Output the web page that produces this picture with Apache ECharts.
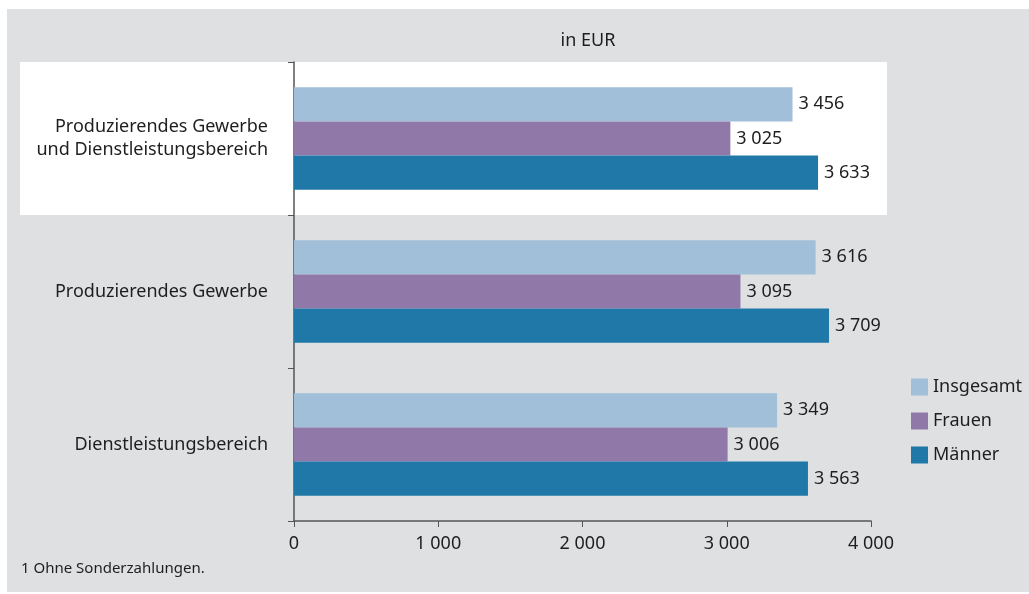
<!DOCTYPE html>
<html>
<head>
<meta charset="utf-8">
<script src="https://cdn.jsdelivr.net/npm/echarts@6/dist/echarts.min.js"></script>
<style>
html, body { margin: 0; padding: 0; background: #fff; }
#main { width: 1029px; height: 594px; }
</style>
</head>
<body>
<div id="main"></div>
<script>
var categories = ['Produzierendes Gewerbe\nund Dienstleistungsbereich', 'Produzierendes Gewerbe', 'Dienstleistungsbereich'];
var insgesamt = [3456, 3616, 3349];
var frauen = [3025, 3095, 3006];
var maenner = [3633, 3709, 3563];
var xTicks = [0, 1000, 2000, 3000, 4000];

var textColor = '#1e1e1e';
var fontFamily = '"Noto Sans", "Open Sans", sans-serif';
var fs = 18;

function fmt(v) {
    return String(v).replace(/\B(?=(\d{3})+(?!\d))/g, ' ');
}

var chart = echarts.init(document.getElementById('main'));

var labelStyle = {
    show: true,
    position: 'right',
    distance: 6,
    color: textColor,
    fontSize: fs,
    fontFamily: fontFamily,
    formatter: function (p) { return fmt(p.value); }
};

var option = {
    animation: false,
    textStyle: { fontFamily: fontFamily },
    graphic: [
        { type: 'rect', z: -10, shape: { x: 7, y: 9, width: 1022, height: 583 }, style: { fill: '#dfe0e2' } },
        { type: 'rect', z: -9, shape: { x: 20, y: 62, width: 867, height: 153 }, style: { fill: '#ffffff' } },
        { type: 'text', left: 21, top: 561, style: { text: '1 Ohne Sonderzahlungen.', fill: textColor, fontSize: 15, fontFamily: fontFamily } }
    ],
    title: {
        text: 'in EUR',
        left: 583,
        top: 27,
        textAlign: 'center',
        textStyle: { color: textColor, fontSize: fs, fontWeight: 'normal', fontFamily: fontFamily }
    },
    legend: {
        orient: 'vertical',
        left: 906,
        top: 373,
        itemWidth: 17,
        itemHeight: 17,
        itemGap: 16,
        icon: 'rect',
        textStyle: { color: textColor, fontSize: fs, fontFamily: fontFamily, padding: [0, 0, 0, 0] },
        data: ['Insgesamt', 'Frauen', 'Männer']
    },
    grid: { left: 294, top: 62, right: 158, bottom: 73, containLabel: false },
    xAxis: {
        type: 'value',
        min: 0,
        max: 4000,
        interval: 1000,
        splitLine: { show: false },
        axisLine: { show: true, lineStyle: { color: '#555', width: 1.5 } },
        axisTick: { show: true, length: 6, lineStyle: { color: '#555' } },
        axisLabel: {
            color: textColor, fontSize: fs, fontFamily: fontFamily, margin: 14,
            formatter: function (v) { return xTicks.indexOf(v) >= 0 ? fmt(v) : ''; }
        }
    },
    yAxis: {
        type: 'category',
        inverse: true,
        data: categories,
        axisLine: { show: true, lineStyle: { color: '#555', width: 1.5 } },
        axisTick: { show: true, length: 6, lineStyle: { color: '#555' } },
        axisLabel: { color: textColor, fontSize: fs, fontFamily: fontFamily, margin: 26, lineHeight: 23, align: 'right' }
    },
    series: [
        { name: 'Insgesamt', type: 'bar', data: insgesamt, barGap: '0%', barCategoryGap: '33%', itemStyle: { color: '#a1bfd8' }, label: labelStyle },
        { name: 'Frauen', type: 'bar', data: frauen, itemStyle: { color: '#9079a8' }, label: labelStyle },
        { name: 'Männer', type: 'bar', data: maenner, itemStyle: { color: '#1f78a8' }, label: labelStyle }
    ]
};

chart.setOption(option);
</script>
</body>
</html>
